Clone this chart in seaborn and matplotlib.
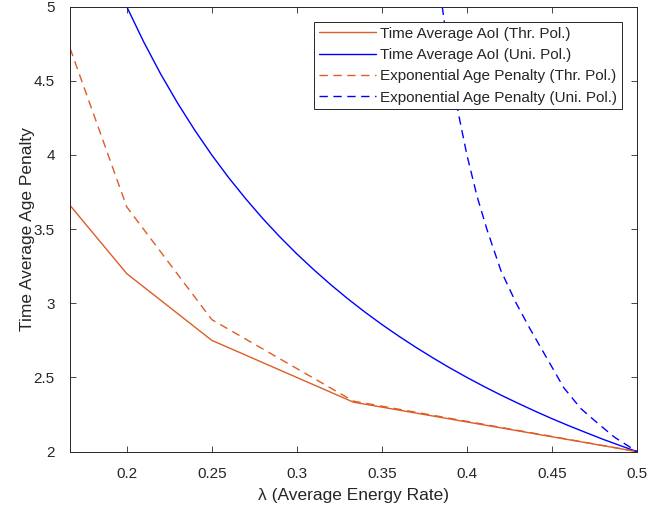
import pandas as pd
import matplotlib
matplotlib.use("Agg")
import matplotlib.pyplot as plt
import seaborn as sns

# values
lam_thr = [1/6, 0.2, 0.25, 1/3, 0.5]
aoi_thr = [3.66, 3.20, 2.75, 2.333, 2.0]
exp_thr = [4.72, 3.65, 2.89, 2.34, 2.0]

lam_uni = [0.20, 0.21, 0.22, 0.23, 0.24, 0.25, 0.26, 0.27, 0.28, 0.29, 0.30,
           0.31, 0.32, 0.33, 0.34, 0.35, 0.36, 0.37, 0.38, 0.39, 0.40, 0.41,
           0.42, 0.43, 0.44, 0.45, 0.46, 0.47, 0.48, 0.49, 0.50]
aoi_uni = [5.000, 4.762, 4.545, 4.348, 4.167, 4.000, 3.846, 3.704, 3.571,
           3.448, 3.333, 3.226, 3.125, 3.030, 2.941, 2.857, 2.778, 2.703,
           2.632, 2.564, 2.500, 2.439, 2.381, 2.326, 2.273, 2.222, 2.174,
           2.128, 2.083, 2.041, 2.000]

lam_exp_uni = [0.3855, 0.390, 0.395, 0.400, 0.406, 0.412, 0.420, 0.429,
               0.437, 0.448, 0.457, 0.467, 0.477, 0.487, 0.500]
exp_uni = [5.00, 4.62, 4.28, 4.00, 3.72, 3.49, 3.22, 3.00,
           2.83, 2.61, 2.43, 2.29, 2.19, 2.095, 2.00]

orange = "#DC5D27"
blue = "#0000FF"
axcol = "#262626"

sns.set_style("ticks")
plt.rcParams["font.family"] = ["Liberation Sans", "DejaVu Sans"]

fig = plt.figure(figsize=(6.67, 5.12), dpi=100)
ax = fig.add_axes([0.105, 0.118, 0.85, 0.869])

sns.lineplot(x=lam_thr, y=aoi_thr, ax=ax, color=orange, lw=1.0,
             label="Time Average AoI (Thr. Pol.)")
sns.lineplot(x=lam_uni, y=aoi_uni, ax=ax, color=blue, lw=1.0,
             label="Time Average AoI (Uni. Pol.)")
sns.lineplot(x=lam_thr, y=exp_thr, ax=ax, color=orange, lw=1.0,
             label="Exponential Age Penalty (Thr. Pol.)")
sns.lineplot(x=lam_exp_uni, y=exp_uni, ax=ax, color=blue, lw=1.0,
             label="Exponential Age Penalty (Uni. Pol.)")

for line in ax.get_lines()[2:]:
    line.set_dashes((6, 4))

ax.set_xlim(1/6, 0.5)
ax.set_ylim(2, 5)
ax.set_xticks([0.2, 0.25, 0.3, 0.35, 0.4, 0.45, 0.5])
ax.set_xticklabels(["0.2", "0.25", "0.3", "0.35", "0.4", "0.45", "0.5"])
ax.set_yticks([2, 2.5, 3, 3.5, 4, 4.5, 5])
ax.set_yticklabels(["2", "2.5", "3", "3.5", "4", "4.5", "5"])

ax.tick_params(direction="in", top=True, right=True, length=4, width=0.6,
               colors=axcol, labelsize=11, labelcolor=axcol, pad=11)
for s in ax.spines.values():
    s.set_color(axcol)
    s.set_linewidth(0.7)

ax.set_xlabel("λ (Average Energy Rate)", fontsize=12.5, color=axcol,
              labelpad=5)
ax.set_ylabel("Time Average Age Penalty", fontsize=12.5, color=axcol,
              labelpad=-1)

leg = ax.legend(loc="upper right", fontsize=11, frameon=True, fancybox=False,
                edgecolor=axcol, framealpha=1, handlelength=3.7,
                borderaxespad=1.0, labelspacing=0.48, handletextpad=0.3,
                borderpad=0.3)
leg.get_frame().set_linewidth(0.7)

fig.savefig("out.png", dpi=100)
